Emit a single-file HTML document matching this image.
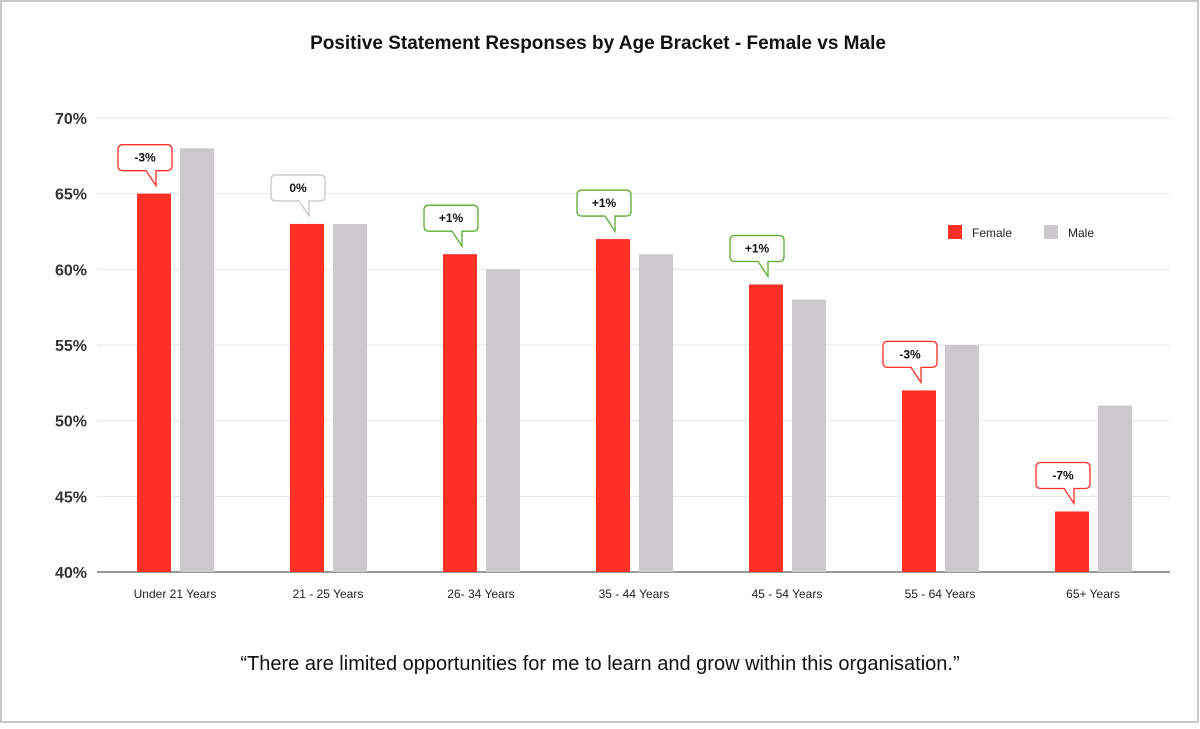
<!DOCTYPE html>
<html><head><meta charset="utf-8"><style>
body{margin:0;background:#fff;}
#c{position:relative;width:1200px;height:724px;}
svg text{font-family:"Liberation Sans",Arial,sans-serif;}
</style></head><body>
<div id="c">
<svg id="s" width="1200" height="724" xmlns="http://www.w3.org/2000/svg">
<rect x="1" y="1" width="1197" height="721" fill="#fff" stroke="#c8c8c8" stroke-width="2"/>
<text x="598" y="49" text-anchor="middle" font-size="19" font-weight="bold" fill="#111">Positive Statement Responses by Age Bracket - Female vs Male</text>
<text x="600" y="670" text-anchor="middle" font-size="20" fill="#111">“There are limited opportunities for me to learn and grow within this organisation.”</text>
<g id="grid"></g><g id="bars"></g><g id="calls"></g>
<g>
<rect x="948" y="225" width="14" height="14" fill="#ff3126"/>
<text x="972" y="237" font-size="12" fill="#222">Female</text>
<rect x="1044" y="225" width="14" height="14" fill="#cbc9cc"/>
<text x="1068" y="237" font-size="12" fill="#222">Male</text>
</g>
</svg></div>
<script>
const categories=["Under 21 Years","21 - 25 Years","26- 34 Years","35 - 44 Years","45 - 54 Years","55 - 64 Years","65+ Years"];
const female=[65,63,61,62,59,52,44];
const male=[68,63,60,61,58,55,51];
const yTicks=[40,45,50,55,60,65,70];
const NS="http://www.w3.org/2000/svg";
const y0=572,yTop=118,vMin=40,vMax=70,x0=99,step=153;
const y=v=>y0-(v-vMin)/(vMax-vMin)*(y0-yTop);
function mk(t,a,p){const e=document.createElementNS(NS,t);for(const k in a)e.setAttribute(k,a[k]);p.appendChild(e);return e;}
const grid=document.getElementById('grid'),bars=document.getElementById('bars'),calls=document.getElementById('calls');
yTicks.forEach(v=>{
 const l=mk('line',{x1:97,x2:1170,y1:y(v),y2:y(v),stroke:v===vMin?'#999':'#e6e6e9','stroke-width':v===vMin?2:1},grid);
 
 
 const t=mk('text',{x:87,y:y(v)+6,'text-anchor':'end','font-size':16,'font-weight':'bold',fill:'#333'},grid);
 t.textContent=v+'%';
 
 
});
categories.forEach((c,i)=>{
 const fx=x0+38+i*step,mx=fx+43;
 const f=mk('rect',{x:fx,y:y(female[i]),width:34,height:y0-y(female[i]),fill:'#ff3126'},bars);
 
 
 const m=mk('rect',{x:mx,y:y(male[i]),width:34,height:y0-y(male[i]),fill:'#cbc9cc'},bars);
 
 
 const t=mk('text',{x:fx+38,y:598,'text-anchor':'middle','font-size':12,fill:'#222'},bars);
 t.textContent=c;
 
 
 const d=female[i]-male[i];
 const col=d<0?'#ff3126':d>0?'#5aaa2e':'#c8c8c8';
 const cx=fx+17,bt=y(female[i]),bb=bt-23,tp=bt-8,L=cx-36,R=cx+18,T=bb-26;
 const g=mk('g',{},calls);
 
 
 mk('path',{d:`M${L+5},${T} H${R-5} Q${R},${T} ${R},${T+5} V${bb-5} Q${R},${bb} ${R-5},${bb} H${cx+2} L${cx+2},${tp} L${cx-8},${bb} H${L+5} Q${L},${bb} ${L},${bb-5} V${T+5} Q${L},${T} ${L+5},${T} Z`,fill:'#fff',stroke:col,'stroke-width':1.3},g);
 const lt=mk('text',{x:(L+R)/2,y:T+17,'text-anchor':'middle','font-size':12,'font-weight':'bold',fill:'#111'},g);
 lt.textContent=(d>0?'+':'')+d+'%';
});
</script>
</body></html>
